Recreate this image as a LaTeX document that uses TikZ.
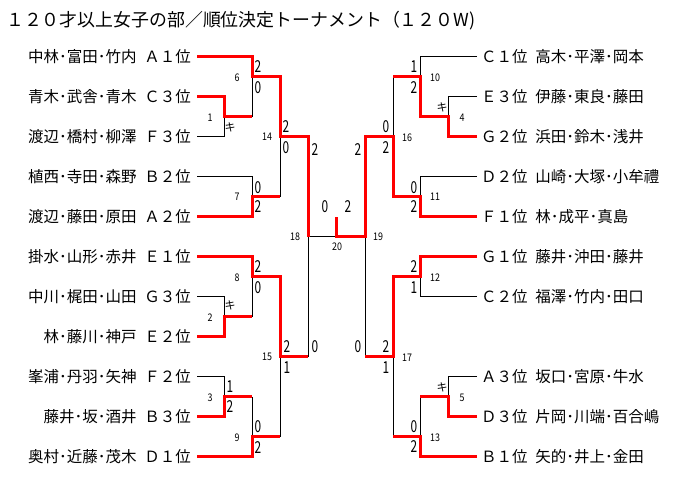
\documentclass[tikz,border=0pt]{standalone}
\usepackage{fontspec}
\newfontfamily\jp{Noto Sans CJK JP}
\newfontfamily\jpnarrow[FakeStretch=0.72]{Noto Sans CJK JP}
\newfontfamily\jpsmall[FakeStretch=0.85]{Noto Sans CJK JP}
\begin{document}
\begin{tikzpicture}[x=1pt,y=-1pt,
  lname/.style={anchor=east,inner xsep=6pt,inner ysep=0pt,font=\jp\fontsize{15.5}{16}\selectfont},
  rname/.style={anchor=west,inner xsep=4pt,inner ysep=0pt,font=\jp\fontsize{15.5}{16}\selectfont},
  win/.style={draw=red,line width=3pt},
  lose/.style={draw=black,line width=1pt},
  score/.style={inner sep=0pt,font=\jpnarrow\fontsize{16.5}{17}\selectfont},
  mnum/.style={inner sep=0pt,font=\jpsmall\fontsize{10.5}{11}\selectfont},
  kiken/.style={inner sep=0pt,font=\jp\fontsize{11}{11}\selectfont}]
\fill[white] (0,0) rectangle (673,478);
\useasboundingbox (0,0) rectangle (673,478);
\node[anchor=west,inner sep=0pt,font=\jp\fontsize{17.9}{18}\selectfont] (title) at (6,21) {１２０才以上女子の部／順位決定トーナメント（１２０W)};
% left names
\node[lname] (L1) at (197,57) {中林･富田･竹内\hspace{0.5em}Ａ１位};
\node[lname] (L2) at (197,97) {青木･武舎･青木\hspace{0.5em}Ｃ３位};
\node[lname] (L3) at (197,137) {渡辺･橋村･柳澤\hspace{0.5em}Ｆ３位};
\node[lname] (L4) at (197,177) {植西･寺田･森野\hspace{0.5em}Ｂ２位};
\node[lname] (L5) at (197,217) {渡辺･藤田･原田\hspace{0.5em}Ａ２位};
\node[lname] (L6) at (197,257) {掛水･山形･赤井\hspace{0.5em}Ｅ１位};
\node[lname] (L7) at (197,297) {中川･梶田･山田\hspace{0.5em}Ｇ３位};
\node[lname] (L8) at (197,337) {林･藤川･神戸\hspace{0.5em}Ｅ２位};
\node[lname] (L9) at (197,377) {峯浦･丹羽･矢神\hspace{0.5em}Ｆ２位};
\node[lname] (L10) at (197,417) {藤井･坂･酒井\hspace{0.5em}Ｂ３位};
\node[lname] (L11) at (197,457) {奥村･近藤･茂木\hspace{0.5em}Ｄ１位};
% right names
\node[rname] (R1) at (477,57) {Ｃ１位\hspace{0.5em}高木･平澤･岡本};
\node[rname] (R2) at (477,97) {Ｅ３位\hspace{0.5em}伊藤･東良･藤田};
\node[rname] (R3) at (477,137) {Ｇ２位\hspace{0.5em}浜田･鈴木･浅井};
\node[rname] (R4) at (477,177) {Ｄ２位\hspace{0.5em}山崎･大塚･小牟禮};
\node[rname] (R5) at (477,217) {Ｆ１位\hspace{0.5em}林･成平･真島};
\node[rname] (R6) at (477,257) {Ｇ１位\hspace{0.5em}藤井･沖田･藤井};
\node[rname] (R7) at (477,297) {Ｃ２位\hspace{0.5em}福澤･竹内･田口};
\node[rname] (R9) at (477,377) {Ａ３位\hspace{0.5em}坂口･宮原･牛水};
\node[rname] (R10) at (477,417) {Ｄ３位\hspace{0.5em}片岡･川端･百合嶋};
\node[rname] (R11) at (477,457) {Ｂ１位\hspace{0.5em}矢的･井上･金田};
% junction coordinates
\coordinate (m1) at (224,117);
\coordinate (m2) at (224,317);
\coordinate (m3) at (224,397);
\coordinate (m6) at (252,77);
\coordinate (m7) at (252,197);
\coordinate (m8) at (252,277);
\coordinate (m9) at (252,437);
\coordinate (m14) at (280,137);
\coordinate (m15) at (280,357);
\coordinate (m18) at (308,237);
\coordinate (m20) at (336,237);
\coordinate (m20w) at (336,217);
\coordinate (m19) at (365,237);
\coordinate (m16) at (393,137);
\coordinate (m17) at (393,357);
\coordinate (m10) at (420,77);
\coordinate (m11) at (420,197);
\coordinate (m12) at (420,277);
\coordinate (m13) at (420,437);
\coordinate (m4) at (448,117);
\coordinate (m5) at (448,397);
% losing lines
\draw[lose] (L3.east) -| (m1);
\draw[lose] (m1 -| m6) -- (m6);
\draw[lose] (L4.east) -| (m7);
\draw[lose] (m7 -| m14) -- (m14);
\draw[lose] (L7.east) -| (m2);
\draw[lose] (m2 -| m8) -- (m8);
\draw[lose] (L9.east) -| (m3);
\draw[lose] (m3 -| m9) -- (m9);
\draw[lose] (m9 -| m15) -- (m15);
\draw[lose] (m15 -| m18) -- (m18) -- (m19);
\draw[lose] (m17 -| m19) -- (m19);
\draw[lose] (m10 -| m16) -- (m16);
\draw[lose] (R1.west) -| (m10);
\draw[lose] (R2.west) -| (m4);
\draw[lose] (R4.west) -| (m11);
\draw[lose] (R7.west) -| (m12);
\draw[lose] (m13 -| m17) -- (m17);
\draw[lose] (R9.west) -| (m5);
\draw[lose] (m5 -| m13) -- (m13);
% winning lines
\draw[win] (L1.east) -| (m6) -| (m14) -| (m18);
\draw[win] (L2.east) -| (m1) -- (m1 -| m6);
\draw[win] (L5.east) -| (m7) -- (m7 -| m14);
\draw[win] (L6.east) -| (m8) -| (m15) -- (m15 -| m18);
\draw[win] (L8.east) -| (m2) -- (m2 -| m8);
\draw[win] (L10.east) -| (m3) -- (m3 -| m9);
\draw[win] (L11.east) -| (m9) -- (m9 -| m15);
\draw[win] (R5.west) -| (m11) -| (m16) -| (m19) -- (m20) -- (m20w);
\draw[win] (R3.west) -| (m4) -| (m10) -- (m10 -| m16);
\draw[win] (R6.west) -| (m12) -| (m17) -- (m17 -| m19);
\draw[win] (R10.west) -| (m5) -- (m5 -| m13);
\draw[win] (R11.west) -| (m13) -- (m13 -| m17);
% scores left
\node[score] (s6a) at (258,67) {2};
\node[score] (s6b) at (258,88) {0};
\node[score] (s7a) at (258,188) {0};
\node[score] (s7b) at (258,207) {2};
\node[score] (s14a) at (286,127) {2};
\node[score] (s14b) at (286,148) {0};
\node[score] (s18a) at (315,150) {2};
\node[score] (s18b) at (315,347) {0};
\node[score] (s8a) at (258,267) {2};
\node[score] (s8b) at (258,288) {0};
\node[score] (s3a) at (230,387) {1};
\node[score] (s3b) at (230,407) {2};
\node[score] (s9a) at (258,427) {0};
\node[score] (s9b) at (258,448) {2};
\node[score] (s15a) at (287,347) {2};
\node[score] (s15b) at (287,368) {1};
\node[score] (s20a) at (325,207) {0};
\node[score] (s20b) at (348,207) {2};
% scores right
\node[score] (s10a) at (414,67) {1};
\node[score] (s10b) at (414,88) {2};
\node[score] (s11a) at (414,188) {0};
\node[score] (s11b) at (414,207) {2};
\node[score] (s16a) at (386,127) {0};
\node[score] (s16b) at (386,148) {2};
\node[score] (s19a) at (358,150) {2};
\node[score] (s19b) at (358,347) {0};
\node[score] (s12a) at (414,267) {2};
\node[score] (s12b) at (414,288) {1};
\node[score] (s17a) at (386,347) {2};
\node[score] (s17b) at (386,368) {1};
\node[score] (s13a) at (414,427) {0};
\node[score] (s13b) at (414,447) {2};
% kiken
\node[kiken] (k1) at (230,127) {キ};
\node[kiken] (k2) at (230,305) {キ};
\node[kiken] (k4) at (442,107) {キ};
\node[kiken] (k5) at (442,387) {キ};
% match numbers
\node[mnum] (n1) at (210,118) {1};
\node[mnum] (n2) at (210,318) {2};
\node[mnum] (n3) at (210,398) {3};
\node[mnum] (n6) at (237,78) {6};
\node[mnum] (n7) at (237,197) {7};
\node[mnum] (n8) at (237,278) {8};
\node[mnum] (n9) at (237,438) {9};
\node[mnum] (n14) at (267,137) {14};
\node[mnum] (n15) at (267,357) {15};
\node[mnum] (n18) at (295,237) {18};
\node[mnum] (n20) at (337,247) {20};
\node[mnum] (n19) at (378,237) {19};
\node[mnum] (n16) at (407,138) {16};
\node[mnum] (n17) at (407,358) {17};
\node[mnum] (n10) at (435,78) {10};
\node[mnum] (n11) at (435,197) {11};
\node[mnum] (n12) at (435,278) {12};
\node[mnum] (n13) at (435,438) {13};
\node[mnum] (n4) at (462,118) {4};
\node[mnum] (n5) at (462,398) {5};
\end{tikzpicture}
\end{document}
